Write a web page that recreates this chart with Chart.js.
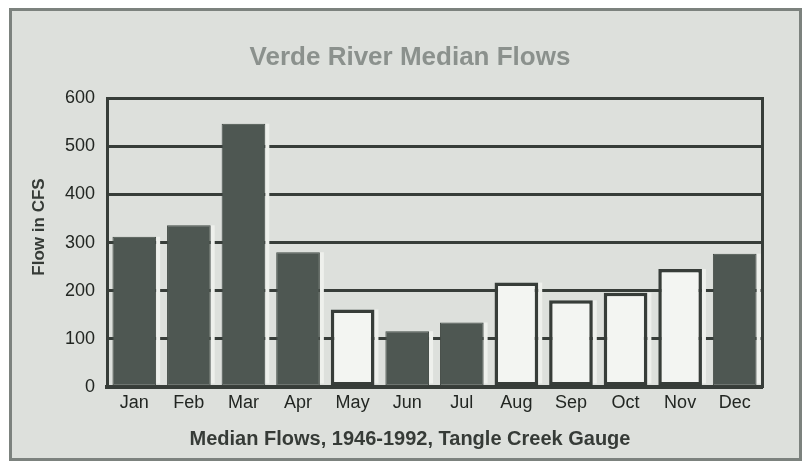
<!DOCTYPE html>
<html>
<head>
<meta charset="utf-8">
<script src="https://cdn.jsdelivr.net/npm/chart.js@4/dist/chart.umd.min.js"></script>
<style>
  html, body { margin: 0; padding: 0; background: #ffffff; }
  body { width: 804px; height: 464px; position: relative; overflow: hidden; }
  #frame {
    position: absolute; left: 9px; top: 8px; width: 787px; height: 447px;
    border: 3px solid #7c827e; background: #dde0dc;
  }
  #wrap { position: absolute; left: 0; top: 0; width: 804px; height: 464px; }
</style>
</head>
<body>
<div id="frame"></div>
<div id="wrap"><canvas id="chart" width="804" height="464"></canvas></div>
<script>
// Median monthly flow of the Verde River at the Tangle Creek gauge, 1946-1992
const months = ['Jan', 'Feb', 'Mar', 'Apr', 'May', 'Jun', 'Jul', 'Aug', 'Sep', 'Oct', 'Nov', 'Dec'];
const medianFlow = [312, 336, 547, 280, 161, 116, 134, 217, 180, 196, 245, 277];
const outlinedMonths = ['May', 'Aug', 'Sep', 'Oct', 'Nov'];
const yTicks = [0, 100, 200, 300, 400, 500, 600];

const chartTitle = 'Verde River Median Flows';
const xCaption = 'Median Flows, 1946-1992, Tangle Creek Gauge';
const yCaption = 'Flow in CFS';

const INK = '#373d39';
const DARK_FILL = '#4e5752';
const LIGHT_FILL = '#f3f5f2';
const FONT = "'Liberation Sans', Arial, sans-serif";

const isOutlined = (i) => outlinedMonths.includes(months[i]);

// light sliver along the right edge of each bar, breaking the grid lines
const barSheen = {
  id: 'barSheen',
  beforeDatasetsDraw(chart) {
    const ctx = chart.ctx;
    const meta = chart.getDatasetMeta(0);
    ctx.save();
    ctx.fillStyle = '#eef0ec';
    meta.data.forEach((el) => {
      const p = el.getProps(['x', 'y', 'base', 'width'], true);
      ctx.fillRect(p.x + p.width / 2, p.y, 4, p.base - p.y - 2);
    });
    ctx.restore();
  }
};

// rotated y-axis caption
const yTitle = {
  id: 'yTitle',
  afterDraw(chart) {
    const ctx = chart.ctx;
    ctx.save();
    ctx.translate(39, 227);
    ctx.rotate(-Math.PI / 2);
    ctx.font = 'bold 17px ' + FONT;
    ctx.fillStyle = '#363b37';
    ctx.textAlign = 'center';
    ctx.textBaseline = 'middle';
    ctx.fillText(yCaption, 0, 0);
    ctx.restore();
  }
};

new Chart(document.getElementById('chart'), {
  type: 'bar',
  data: {
    labels: months,
    datasets: [{
      data: medianFlow,
      backgroundColor: (c) => isOutlined(c.dataIndex) ? LIGHT_FILL : DARK_FILL,
      borderColor: (c) => isOutlined(c.dataIndex) ? INK : '#434b46',
      borderWidth: (c) => isOutlined(c.dataIndex) ? 3.5 : 1,
      borderSkipped: false,
      categoryPercentage: 1,
      barPercentage: 0.8
    }]
  },
  options: {
    responsive: false,
    animation: false,
    devicePixelRatio: 1,
    layout: { padding: { left: 16, right: 0, top: 0, bottom: 13 } },
    plugins: {
      legend: { display: false },
      tooltip: { enabled: false },
      title: {
        display: true,
        text: chartTitle,
        color: '#8b918d',
        font: { family: FONT, size: 26, weight: 'bold' },
        padding: { top: 42, bottom: 25 }
      },
      subtitle: {
        display: true,
        position: 'bottom',
        text: xCaption,
        color: '#363b37',
        font: { family: FONT, size: 20, weight: 'bold' },
        padding: { top: 0, bottom: 0 }
      }
    },
    scales: {
      x: {
        grid: { display: false, drawTicks: false },
        border: { display: true, color: INK, width: 4 },
        ticks: { color: '#222622', font: { family: FONT, size: 18 }, padding: 5 },
        afterFit: (s) => { s.height = 40; }
      },
      y: {
        min: 0,
        max: 600,
        afterBuildTicks: (s) => { s.ticks = yTicks.map((v) => ({ value: v })); },
        grid: { color: INK, lineWidth: 3, drawTicks: false },
        border: { display: true, color: INK, width: 3 },
        ticks: { color: '#222622', font: { family: FONT, size: 18 }, padding: 12 },
        afterFit: (s) => { s.width = 91; }
      },
      yRight: {
        position: 'right',
        min: 0,
        max: 600,
        grid: { drawOnChartArea: false, drawTicks: false },
        border: { display: true, color: INK, width: 3 },
        ticks: { display: false },
        afterFit: (s) => { s.width = 42; }
      }
    }
  },
  plugins: [barSheen, yTitle]
});
</script>
</body>
</html>
